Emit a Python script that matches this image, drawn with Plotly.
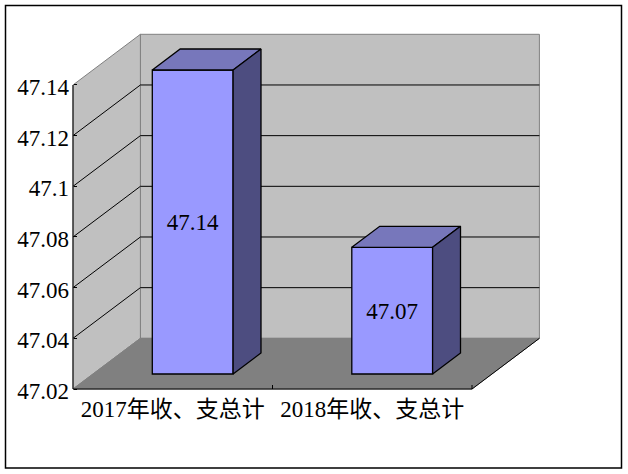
import plotly.graph_objects as go

categories = ["2017年收、支总计", "2018年收、支总计"]
values = [47.14, 47.07]
value_labels = ["47.14", "47.07"]
y_ticks = [47.02, 47.04, 47.06, 47.08, 47.10, 47.12, 47.14]
y_tick_labels = ["47.02", "47.04", "47.06", "47.08", "47.1", "47.12", "47.14"]

W, H = 628, 474
FONT = "'Liberation Serif', 'Noto Sans CJK SC', serif"
FS = 23
# pixel calibration of the front plane
X0_PX, CAT_PX = 73.0, 199.5
Y0_PX, STEP_PX = 389.0, 50.67
VMIN, STEP = y_ticks[0], y_ticks[1] - y_ticks[0]
OFFSET_X = 67.4 / CAT_PX          # wall depth, in category units
OFFSET_Y = STEP                   # wall depth, in value units
BAR_W = 0.405
BAR_NEAR, BAR_FAR = 0.296, 0.71   # bar front/back as fraction of floor depth
LABEL_DROP_PX = 2.5

xrange_ = [-X0_PX / CAT_PX, (W - X0_PX) / CAT_PX]
yrange_ = [VMIN - (H - Y0_PX) / STEP_PX * STEP, VMIN + Y0_PX / STEP_PX * STEP]


def proj(cat, val, depth=0.0):
    return cat + depth * OFFSET_X, val + depth * OFFSET_Y


def poly(points):
    pts = [proj(*p) for p in points]
    return "M " + " L ".join(f"{x},{y}" for x, y in pts) + " Z"


def seg(a, b, color="#000000", width=1):
    (x0, y0), (x1, y1) = proj(*a), proj(*b)
    return dict(type="line", xref="x", yref="y", x0=x0, y0=y0, x1=x1, y1=y1,
                line=dict(color=color, width=width), layer="below")


n = len(categories)
top, bot = y_ticks[-1], y_ticks[0]
shapes = [
    dict(type="path", xref="x", yref="y", layer="below", fillcolor="#C0C0C0",
         line=dict(color="#808080", width=1),
         path=poly([(0, bot, 1), (n, bot, 1), (n, top, 1), (0, top, 1)])),
    dict(type="path", xref="x", yref="y", layer="below", fillcolor="#C0C0C0",
         line=dict(color="#808080", width=1),
         path=poly([(0, bot, 0), (0, bot, 1), (0, top, 1), (0, top, 0)])),
    dict(type="path", xref="x", yref="y", layer="below", fillcolor="#808080",
         line=dict(color="#808080", width=1),
         path=poly([(0, bot, 0), (n, bot, 0), (n, bot, 1), (0, bot, 1)])),
]
for t in y_ticks[1:-1]:
    shapes.append(seg((0, t, 0), (0, t, 1)))
    shapes.append(seg((0, t, 1), (n, t, 1)))
shapes += [
    seg((0, bot, 0), (0, top, 0)),
    seg((0, bot, 0), (n, bot, 0)),
    seg((n, bot, 0), (n, bot, 1)),
]
# category separators on the floor edge
for c in range(1, n + 1):
    x, y = proj(c, bot, 0)
    shapes.append(dict(type="line", xref="x", yref="y", x0=x, x1=x, y0=y,
                       y1=y + 4 / STEP_PX * STEP, line=dict(color="#000000", width=1)))
# outer frame
shapes.append(dict(type="rect", xref="paper", yref="paper",
                   x0=5.5 / W, x1=621.5 / W, y0=1 - 468 / H, y1=1 - 5.5 / H,
                   line=dict(color="#000000", width=1.5), layer="below"))

fig = go.Figure()

# front faces
near_x = [i + 0.5 + BAR_NEAR * OFFSET_X for i in range(n)]
near_base = bot + BAR_NEAR * OFFSET_Y
fig.add_trace(go.Bar(
    x=near_x, y=[v - bot for v in values], base=near_base, width=BAR_W,
    marker=dict(color="#9999FF", line=dict(color="#000000", width=1.3)),
    hoverinfo="skip", showlegend=False, cliponaxis=False))

# top and side faces
for i, v in enumerate(values):
    l, r = i + 0.5 - BAR_W / 2, i + 0.5 + BAR_W / 2
    faces = [
        ([(l, v, BAR_NEAR), (r, v, BAR_NEAR), (r, v, BAR_FAR), (l, v, BAR_FAR)], "#7777BB"),
        ([(r, bot, BAR_NEAR), (r, bot, BAR_FAR), (r, v, BAR_FAR), (r, v, BAR_NEAR)], "#4D4D80"),
    ]
    for face, color in faces:
        pts = [proj(*p) for p in face + face[:1]]
        fig.add_trace(go.Scatter(
            x=[p[0] for p in pts], y=[p[1] for p in pts], mode="lines",
            fill="toself", fillcolor=color, line=dict(color="#000000", width=1.3),
            hoverinfo="skip", showlegend=False, cliponaxis=False))

# value labels centred on the front faces
fig.add_trace(go.Scatter(
    x=near_x,
    y=[near_base + (v - bot) / 2 - LABEL_DROP_PX / STEP_PX * STEP for v in values],
    mode="text", text=value_labels, textposition="middle center",
    textfont=dict(family=FONT, size=FS, color="#000000"),
    hoverinfo="skip", showlegend=False, cliponaxis=False))

fig.update_layout(
    width=W, height=H, autosize=False,
    margin=dict(l=0, r=0, t=0, b=0, pad=0),
    paper_bgcolor="#FFFFFF", plot_bgcolor="#FFFFFF",
    showlegend=False, hovermode=False, shapes=shapes,
    font=dict(family=FONT, size=FS, color="#000000"),
    xaxis=dict(range=xrange_, domain=[0, 1], anchor="free",
               position=(H - Y0_PX) / H, tickmode="array",
               tickvals=[i + 0.5 for i in range(n)], ticktext=categories,
               showgrid=False, zeroline=False, showline=False, ticks="",
               tickangle=0, fixedrange=True, ticklabelstandoff=4,
               tickfont=dict(family=FONT, size=FS, color="#000000")),
    yaxis=dict(range=yrange_, domain=[0, 1], anchor="free",
               position=X0_PX / W, tickmode="array", tickvals=y_ticks,
               ticktext=y_tick_labels, showgrid=False, zeroline=False,
               showline=False, ticks="inside", ticklen=3, tickcolor="#000000",
               fixedrange=True, ticklabelstandoff=4, ticklabelshift=2,
               tickfont=dict(family=FONT, size=FS, color="#000000")),
)

fig.write_html("out.html", config=dict(displayModeBar=False),
               post_script="document.body.style.margin='0';")
